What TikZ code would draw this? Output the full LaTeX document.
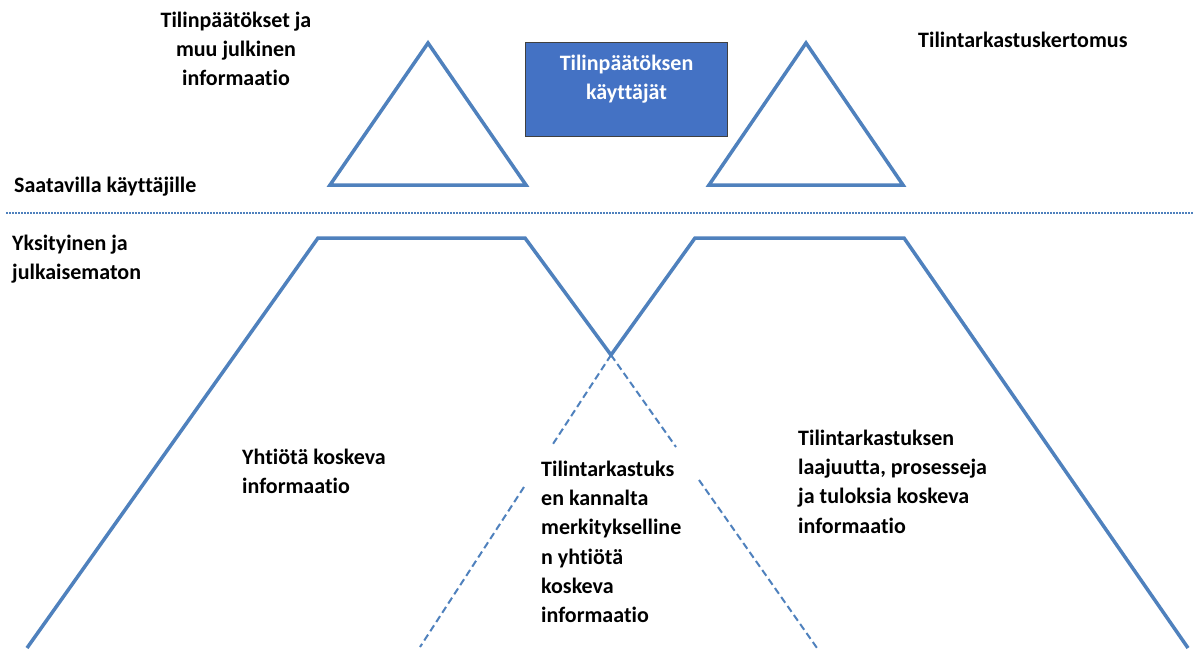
\documentclass[tikz,border=0pt]{standalone}
\usepackage{fontspec}
\setmainfont[Ligatures={NoCommon,TeX}]{Carlito}
\usepackage{xcolor}
\usetikzlibrary{positioning}
\definecolor{lineblue}{HTML}{4F81BD}
\definecolor{boxblue}{HTML}{4472C4}
\tikzset{%
	solidline/.style = {draw=lineblue, line width=3.5pt},
	dashline/.style  = {draw=lineblue, line width=2pt, dash pattern=on 7pt off 4pt},
	dotline/.style   = {draw=lineblue, line width=2pt, dash pattern=on 1.5pt off 1.5pt},
	txt/.style       = {font=\fontsize{22}{29.3}\selectfont\bfseries, align=left, inner sep=0pt, anchor=north west},
	userbox/.style   = {draw=black!75, fill=boxblue, line width=1pt, minimum width=202pt, minimum height=94pt, anchor=north west},
}

\begin{document}
\begin{tikzpicture}[x=1pt,y=-1pt]
	\fill[white] (0,0) rectangle (1193,650);
	\useasboundingbox (0,0) rectangle (1193,650);
	
	% public side
	\coordinate (t1a) at (428,43);
	\coordinate (t1l) at (330,185);
	\coordinate (t1r) at (526,185);
	\coordinate (t2a) at (806,43);
	\coordinate (t2l) at (709,185);
	\coordinate (t2r) at (903,185);
	\draw[solidline] (t1l) -- (t1a) -- (t1r) -- cycle;
	\draw[solidline] (t2l) -- (t2a) -- (t2r) -- cycle;
	
	\node[userbox] (users) at (525,42) {};
	\node[txt, anchor=north, align=center, text=white, below=12.5pt of users.north] (userstxt) {Tilinpäätöksen\\käyttäjät};
	
	\node[txt, anchor=north, align=center] (pubinfo) at (236,11.5) {Tilinpäätökset ja\\muu julkinen\\informaatio};
	\node[txt] (report) at (918,31.5) {Tilintarkastuskertomus};
	\node[txt] (avail) at (14,176.5) {Saatavilla käyttäjille};
	
	% border line
	\coordinate (bl) at (6,213);
	\coordinate (br) at (1193,213);
	\draw[dotline] (bl) -- (br);
	
	% private side
	\node[txt] (private) at (12,234.5) {Yksityinen ja\\julkaisematon};
	\coordinate (p1b) at (27,648);
	\coordinate (p1l) at (318,238);
	\coordinate (p1r) at (525,238);
	\coordinate (x)   at (611,355);
	\coordinate (p2l) at (695,238);
	\coordinate (p2r) at (904,238);
	\coordinate (p2b) at (1188,648);
	\draw[solidline] (p1b) -- (p1l) -- (p1r) -- (x) -- (p2l) -- (p2r) -- (p2b);
	
	\coordinate (dl1) at (551,447);
	\coordinate (dl2) at (524,487);
	\coordinate (dl3) at (420,647);
	\coordinate (dr1) at (676,447);
	\coordinate (dr2) at (699,480);
	\coordinate (dr3) at (817,648);
	\draw[dashline] (x) -- (dl1) (dl2) -- (dl3);
	\draw[dashline] (x) -- (dr1) (dr2) -- (dr3);
	
	\node[txt] (company) at (242,448.5) {Yhtiötä koskeva\\informaatio};
	\node[txt] (relevant) at (541,460.5) {Tilintarkastuks\\en kannalta\\merkitykselline\\n yhtiötä\\koskeva\\informaatio};
	\node[txt] (audit) at (798,429.5) {Tilintarkastuksen\\laajuutta, prosesseja\\ja tuloksia koskeva\\informaatio};
	
\end{tikzpicture}
\end{document}
